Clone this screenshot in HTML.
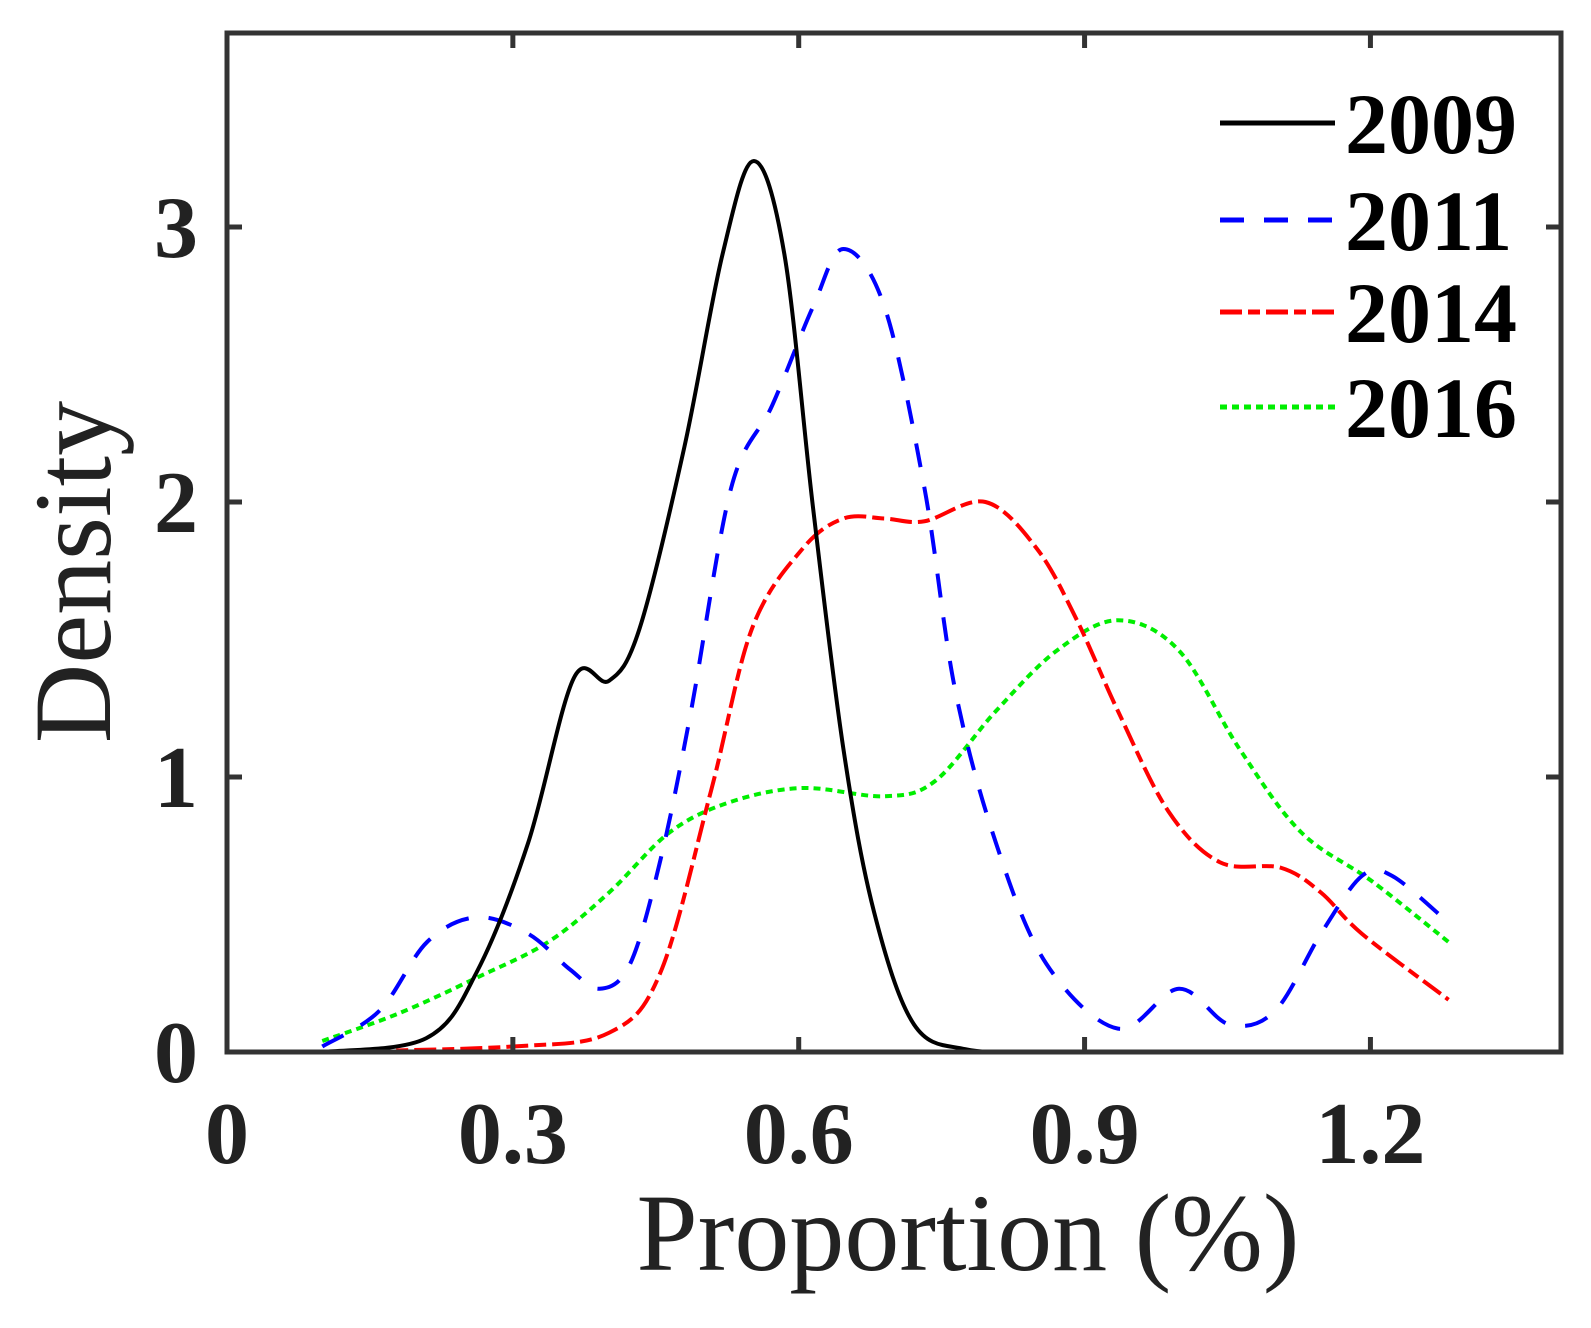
<!DOCTYPE html>
<html><head><meta charset="utf-8"><style>
html,body{margin:0;padding:0;background:#fff;}
svg{display:block;font-family:"Liberation Serif",serif;}
</style></head><body>
<svg id="chart" width="1591" height="1328" viewBox="0 0 1591 1328">
<g id="plot"></g>
</svg>
<script>
const xTicks=[0,0.3,0.6,0.9,1.2];
const xTickLabels=["0","0.3","0.6","0.9","1.2"];
const yTicks=[0,1,2,3];
const yTickLabels=["0","1","2","3"];
const seriesNames=["2009","2011","2014","2016"];
const x2009=[0.1,0.209,0.262,0.316,0.364,0.401,0.433,0.48,0.52,0.553,0.585,0.615,0.647,0.679,0.721,0.775,0.85,0.903];
const y2009=[0,0.05,0.29,0.76,1.36,1.35,1.54,2.2,2.9,3.24,2.9,1.98,1.1,0.51,0.1,0.01,0,0];
const x2011=[0.1,0.16,0.21,0.262,0.316,0.36,0.391,0.423,0.455,0.487,0.529,0.572,0.615,0.647,0.69,0.732,0.764,0.807,0.86,0.935,0.999,1.052,1.1,1.148,1.191,1.223,1.282];
const y2011=[0.02,0.15,0.4,0.49,0.43,0.3,0.23,0.32,0.7,1.24,2.05,2.35,2.71,2.92,2.71,2.05,1.32,0.76,0.32,0.085,0.23,0.1,0.15,0.43,0.64,0.64,0.47];
const x2014=[0.1,0.3,0.401,0.455,0.508,0.551,0.604,0.647,0.69,0.732,0.796,0.85,0.892,0.935,0.988,1.042,1.106,1.148,1.191,1.282];
const y2014=[0,0.02,0.07,0.29,0.95,1.54,1.83,1.94,1.94,1.93,2.0,1.83,1.57,1.24,0.875,0.69,0.67,0.58,0.43,0.19];
const x2016=[0.1,0.18,0.262,0.337,0.401,0.465,0.529,0.604,0.69,0.743,0.807,0.871,0.935,0.999,1.063,1.127,1.202,1.282];
const y2016=[0.04,0.14,0.27,0.4,0.58,0.8,0.91,0.96,0.93,0.985,1.24,1.46,1.57,1.46,1.1,0.8,0.62,0.4];

const L=227,R=1561,T=33,B=1052;
const xs=v=>L+v*(R-L)/1.4;
const ys=v=>B-v*(B-227)/3;
const NS="http://www.w3.org/2000/svg";
const svg=document.getElementById('chart');
function mk(tag,attrs,parent){const e=document.createElementNS(NS,tag);for(const k in attrs)e.setAttribute(k,attrs[k]);(parent||svg).appendChild(e);return e;}
function smooth(xa,ya){
  const p=xa.map((x,i)=>[xs(x),ys(ya[i])]);
  let d="M"+p[0][0]+","+p[0][1];
  for(let i=0;i<p.length-1;i++){
    const p0=p[i-1]||p[i],p1=p[i],p2=p[i+1],p3=p[i+2]||p2;
    const c1=[p1[0]+(p2[0]-p0[0])/6,p1[1]+(p2[1]-p0[1])/6];
    const c2=[p2[0]-(p3[0]-p1[0])/6,p2[1]-(p3[1]-p1[1])/6];
    d+=` C${c1[0]},${c1[1]} ${c2[0]},${c2[1]} ${p2[0]},${p2[1]}`;
  }
  return d;
}
const styles=[
 {c:"#000",dash:""},
 {c:"#0000ff",dash:"24,20"},
 {c:"#ff0000",dash:"22,6,12,6"},
 {c:"#00ee00",dash:"7,5"}];
const data=[[x2009,y2009],[x2011,y2011],[x2014,y2014],[x2016,y2016]];
[3,2,1,0].forEach(i=>{
  const el=mk('path',{d:smooth(data[i][0],data[i][1]),fill:"none",stroke:styles[i].c,"stroke-width":4,"stroke-dasharray":styles[i].dash});
  
  
});
const box=mk('rect',{x:L,y:T,width:R-L,height:B-T,fill:"none",stroke:"#333","stroke-width":5});


xTicks.forEach((t,i)=>{
  const x=xs(t);
  const tk=mk('path',{d:`M${x},${B}V${B-15}M${x},${T}V${T+15}`,stroke:"#333","stroke-width":5});
  
  
  const lb=mk('text',{x:x,y:1163,"text-anchor":"middle","font-size":88,"font-weight":"bold",fill:"#222"});
  lb.textContent=xTickLabels[i];
  
  
});
yTicks.forEach((t,i)=>{
  const y=ys(t);
  const tk=mk('path',{d:`M${L},${y}H${L+15}M${R},${y}H${R-15}`,stroke:"#333","stroke-width":5});
  
  
  const lb=mk('text',{x:198,y:y+30,"text-anchor":"end","font-size":88,"font-weight":"bold",fill:"#222"});
  lb.textContent=yTickLabels[i];
  
  
});
const yt=mk('text',{x:0,y:0,"text-anchor":"middle","font-size":110,fill:"#222",transform:"translate(110,572) rotate(-90)"});
yt.textContent="Density";


const xt=mk('text',{x:968,y:1270,"text-anchor":"middle","font-size":110,fill:"#222"});
xt.textContent="Proportion (%)";


const ly=[123,220,312,407];
seriesNames.forEach((n,i)=>{
  const ln=mk('line',{x1:1220,x2:1335,y1:ly[i],y2:ly[i],stroke:styles[i].c,"stroke-width":5,"stroke-dasharray":styles[i].dash});
  
  
  const tx=mk('text',{x:1345,y:ly[i]+30,"font-size":86,"font-weight":"bold",fill:"#000"});
  tx.textContent=n;
  
  
});
</script>
</body></html>
